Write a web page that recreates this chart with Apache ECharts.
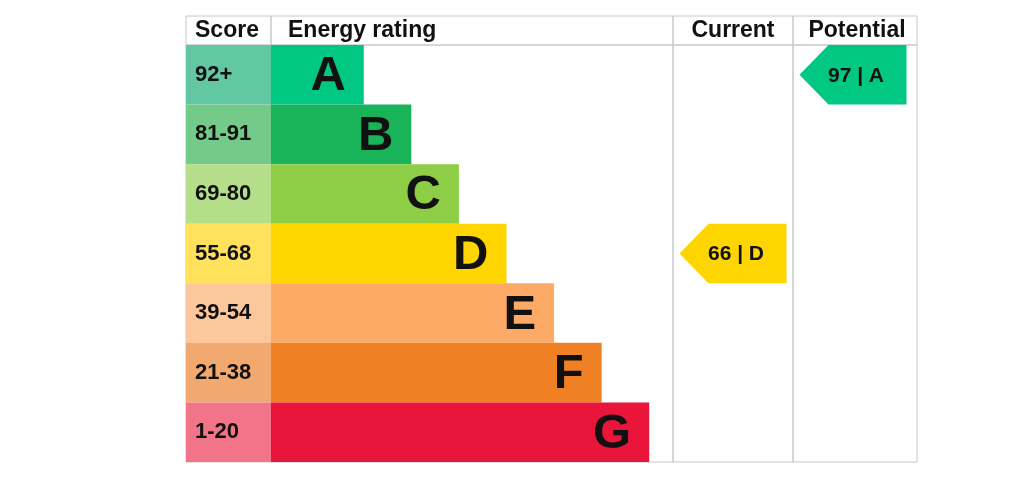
<!DOCTYPE html>
<html>
<head>
<meta charset="utf-8">
<script src="https://cdn.jsdelivr.net/npm/echarts@6/dist/echarts.min.js"></script>
<style>
html,body{margin:0;padding:0;background:#fff;}
#chart{width:1024px;height:499px;}
</style>
</head>
<body>
<div id="chart"></div>
<script>
// ---- data ----
const bandLetters = ['A', 'B', 'C', 'D', 'E', 'F', 'G'];
const scoreRanges = ['92+', '81-91', '69-80', '55-68', '39-54', '21-38', '1-20'];
const barLengths = [2, 3, 4, 5, 6, 7, 8];
const barColors = ['#00c781', '#19b459', '#8dce46', '#ffd500', '#fcaa65', '#ef8023', '#e9153b'];
const scoreColors = ['#62c8a4', '#74ca89', '#b4de8a', '#ffe15c', '#fcc79b', '#f2a96f', '#f17489'];
const headers = ['Score', 'Energy rating', 'Current', 'Potential'];
const currentScore = 66;
const currentBand = 'D';
const potentialScore = 97;
const potentialBand = 'A';

// ---- layout ----
const FONT = "Arial, 'Liberation Sans', Helvetica, sans-serif";
const LINE = '#c8c8c8';
const cols = [
  { left: 186, width: 85 },
  { left: 271, width: 402 },
  { left: 673, width: 120 },
  { left: 793, width: 124 }
];
const bodyTop = 45, bodyHeight = 417, headTop = 16, headHeight = 29;

const grids = [];
cols.forEach(c => grids.push({ left: c.left, width: c.width, top: bodyTop, height: bodyHeight,
  show: true, borderColor: LINE, borderWidth: 1, backgroundColor: 'transparent' }));
cols.forEach(c => grids.push({ left: c.left, width: c.width, top: headTop, height: headHeight,
  show: true, borderColor: LINE, borderWidth: 1, backgroundColor: 'transparent' }));

const xAxes = grids.map((g, i) => {
  const a = { type: 'value', gridIndex: i, show: false, min: 0, max: 1 };
  if (i === 1) { a.min = 0.05; a.max = 8.5; }
  return a;
});
const yAxes = grids.map((g, i) => ({ type: 'category', gridIndex: i, show: false, inverse: true,
  data: i < 4 ? bandLetters : [headers[i - 4]] }));

function arrowRenderer(color) {
  return function (params, api) {
    const row = api.value(1);
    const c = api.coord([0, row]);
    const h = api.size([0, 1])[1];
    const cs = params.coordSys;
    const left = cs.x + 6.5, right = left + 107, notch = left + 29;
    const top = c[1] - h / 2, bottom = c[1] + h / 2;
    return {
      type: 'group',
      children: [
        { type: 'polygon', shape: { points: [[left, c[1]], [notch, top], [right, top], [right, bottom], [notch, bottom]] },
          style: { fill: color } },
        { type: 'text', style: { text: api.value(2) + ' | ' + bandLetters[row], x: (left + right) / 2 + 3, y: c[1] + 1,
          textAlign: 'center', textVerticalAlign: 'middle', fill: '#111',
          font: 'bold 21px ' + FONT } }
      ]
    };
  };
}

const curIdx = bandLetters.indexOf(currentBand);
const potIdx = bandLetters.indexOf(potentialBand);

const option = {
  animation: false,
  backgroundColor: '#fff',
  grid: grids,
  xAxis: xAxes,
  yAxis: yAxes,
  title: [
    { text: headers[0], left: 195, top: 19, padding: 0, textStyle: { fontSize: 23, fontWeight: 'bold', color: '#111', fontFamily: FONT } },
    { text: headers[1], left: 288, top: 19, padding: 0, textStyle: { fontSize: 23, fontWeight: 'bold', color: '#111', fontFamily: FONT } },
    { text: headers[2], left: 733, top: 19, padding: 0, textAlign: 'center', textStyle: { fontSize: 23, fontWeight: 'bold', color: '#111', fontFamily: FONT } },
    { text: headers[3], left: 857, top: 19, padding: 0, textAlign: 'center', textStyle: { fontSize: 23, fontWeight: 'bold', color: '#111', fontFamily: FONT } }
  ],
  series: [
    {
      type: 'bar', xAxisIndex: 0, yAxisIndex: 0, barCategoryGap: '0%',
      data: scoreRanges.map((s, i) => ({ value: 1, itemStyle: { color: scoreColors[i] } })),
      label: { show: true, position: 'insideLeft', distance: 9, formatter: p => scoreRanges[p.dataIndex],
        fontSize: 22, fontWeight: 'bold', color: '#111', fontFamily: FONT },
      silent: true
    },
    {
      type: 'bar', xAxisIndex: 1, yAxisIndex: 1, barCategoryGap: '0%',
      data: barLengths.map((v, i) => ({ value: v, itemStyle: { color: barColors[i] } })),
      label: { show: true, position: 'insideRight', distance: 18, formatter: p => bandLetters[p.dataIndex],
        fontSize: 49, fontWeight: 'bold', color: '#111', fontFamily: FONT, offset: [0, 2] },
      silent: true
    },
    {
      type: 'custom', xAxisIndex: 2, yAxisIndex: 2,
      renderItem: arrowRenderer(barColors[curIdx]),
      data: [[0, curIdx, currentScore]], silent: true
    },
    {
      type: 'custom', xAxisIndex: 3, yAxisIndex: 3,
      renderItem: arrowRenderer(barColors[potIdx]),
      data: [[0, potIdx, potentialScore]], silent: true
    }
  ]
};

const chart = echarts.init(document.getElementById('chart'), null, { renderer: 'canvas' });
chart.setOption(option);
</script>
</body>
</html>
